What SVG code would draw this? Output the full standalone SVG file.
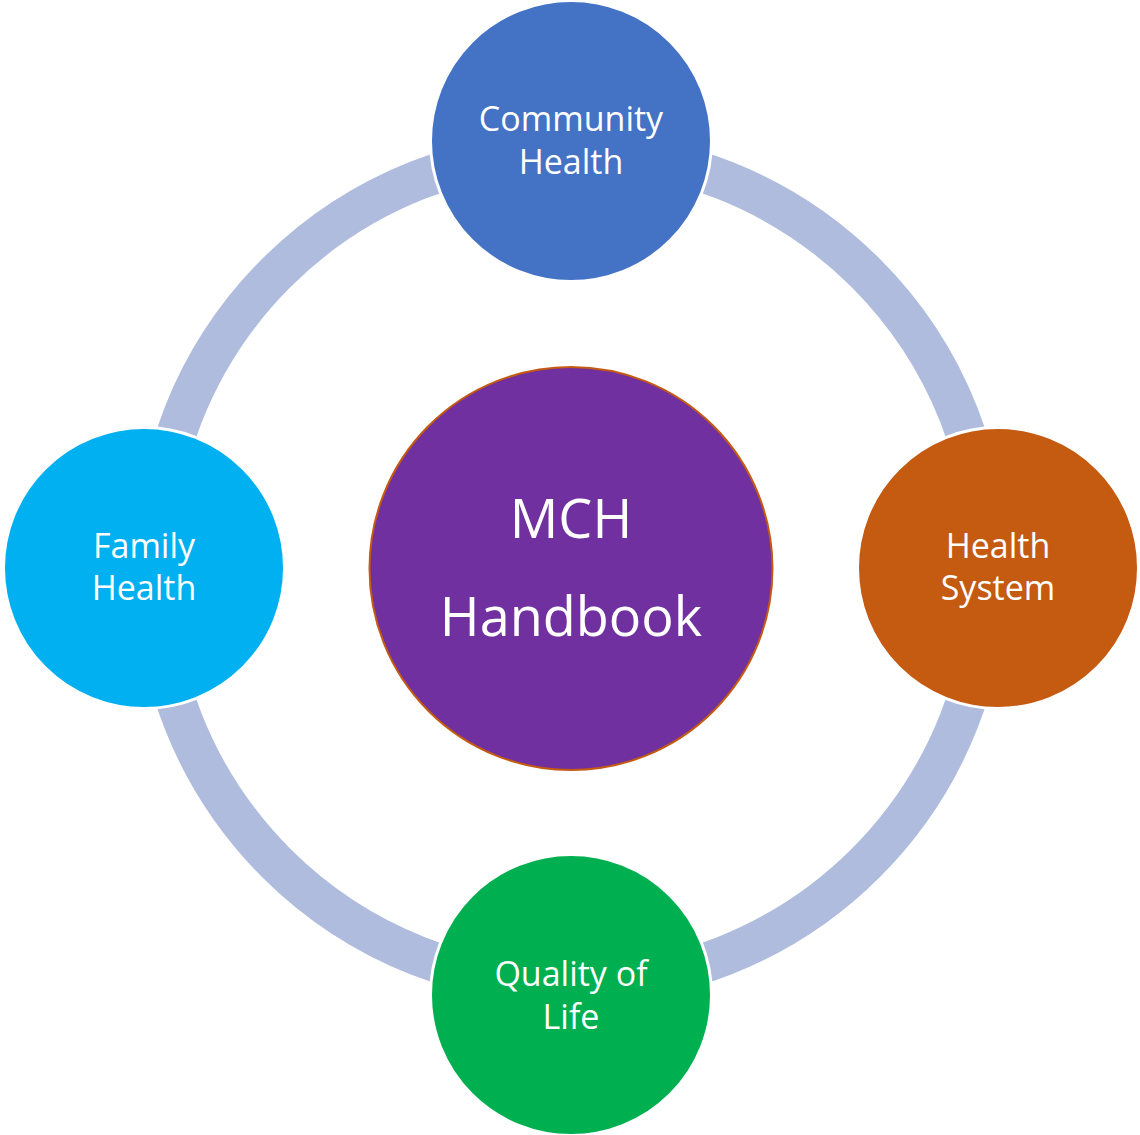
<svg xmlns="http://www.w3.org/2000/svg" width="1140" height="1135" viewBox="0 0 1140 1135">
  <style>
    .node { stroke: #FFFFFF; stroke-width: 3; }
    .lbl { font-family: "Open Sans", "Liberation Sans", sans-serif; font-size: 34px; fill: #FFFFFF; text-anchor: middle; }
    .big { font-family: "Open Sans", "Liberation Sans", sans-serif; font-size: 54px; fill: #FFFFFF; text-anchor: middle; }
  </style>
  <rect width="1140" height="1135" fill="#FFFFFF"/>
  <g id="connectors">
    <circle cx="571" cy="568" r="417" fill="none" stroke="#AFBCDE" stroke-width="40"/>
  </g>
  <g id="center">
    <circle cx="571" cy="568.5" r="201.5" fill="#7030A0" stroke="#C55A11" stroke-width="2"/>
    <text class="big" x="571" y="538">MCH</text>
    <text class="big" x="571" y="636">Handbook</text>
  </g>
  <g id="community-health">
    <circle class="node" cx="571" cy="141" r="140.5" fill="#4472C4"/>
    <text class="lbl" x="571" y="131">Community</text>
    <text class="lbl" x="571" y="174">Health</text>
  </g>
  <g id="health-system">
    <circle class="node" cx="998" cy="568" r="140.5" fill="#C55A11"/>
    <text class="lbl" x="998" y="558">Health</text>
    <text class="lbl" x="998" y="600">System</text>
  </g>
  <g id="quality-of-life">
    <circle class="node" cx="571" cy="995" r="140.5" fill="#00B050"/>
    <text class="lbl" x="571" y="986">Quality of</text>
    <text class="lbl" x="571" y="1029">Life</text>
  </g>
  <g id="family-health">
    <circle class="node" cx="144" cy="568" r="140.5" fill="#00B0F0"/>
    <text class="lbl" x="144" y="558">Family</text>
    <text class="lbl" x="144" y="600">Health</text>
  </g>
</svg>
